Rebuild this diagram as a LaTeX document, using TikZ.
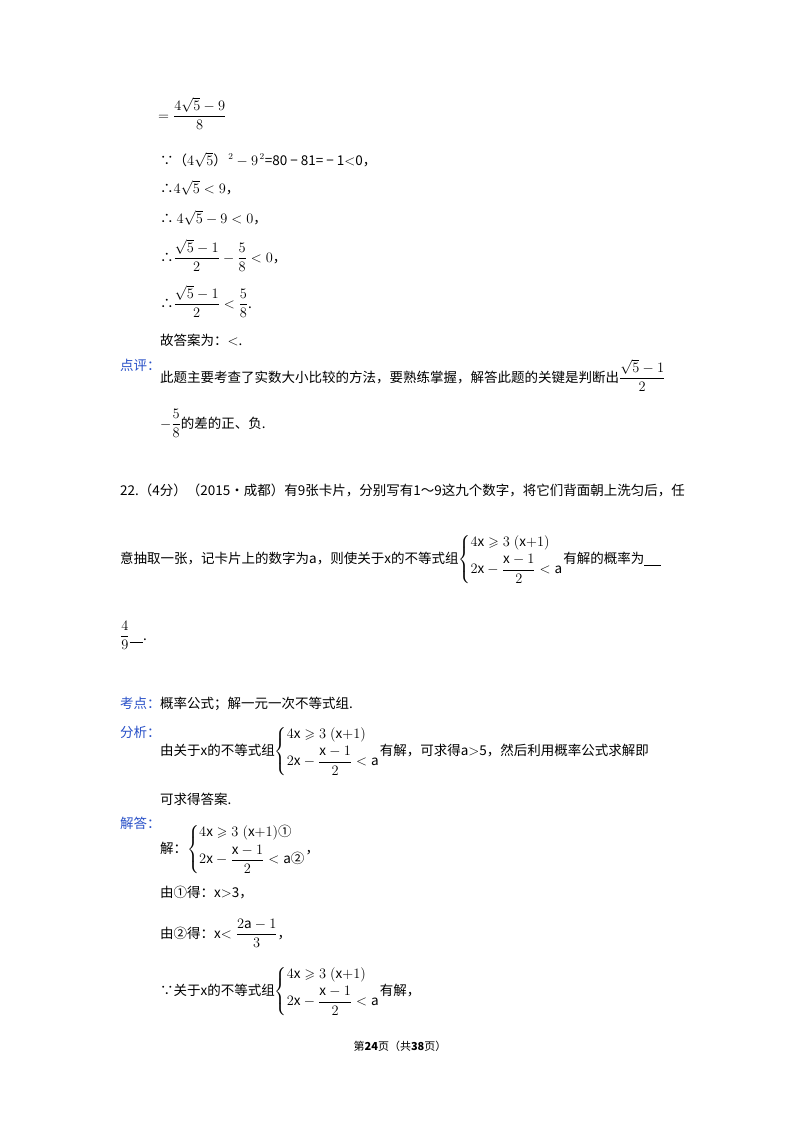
\documentclass[tikz,border=0pt]{standalone}
\usepackage{amsmath,amssymb}
\usepackage{fontspec}
\setmainfont{Noto Sans CJK SC}
\begin{document}
\begin{tikzpicture}[x=1pt,y=-1pt,
  t/.style={anchor=base west,inner sep=0pt,font=\fontsize{13.5}{15}\selectfont},
  lbl/.style={t,text={rgb,255:red,40;green,80;blue,200}}]
\useasboundingbox[fill=white] (0,0) rectangle (800,1132);
\newcommand{\sys}[1]{$\left\{\begin{array}{@{}l@{}}4\mathrm{x}\geqslant 3\;(\mathrm{x}{+}1)#1\\[4pt] 2\mathrm{x}-\dfrac{\mathrm{x}-1}{2}<\mathrm{a}\end{array}\right.$}
\node[t] (l1) at (158,120) {$=\dfrac{4\sqrt{5}-9}{8}$};
\node[t] (l2) at (160,165) {∵（$4\sqrt{5}$）$^{\,2}-9^{\,2}$=80 − 81= − 1$<$0，};
\node[t] (l3) at (160,193) {∴$4\sqrt{5}<9$，};
\node[t] (l4) at (160,223) {∴ $4\sqrt{5}-9<0$，};
\node[t] (l5) at (160,262) {∴$\dfrac{\sqrt{5}-1}{2}-\dfrac{5}{8}<0$，};
\node[t] (l6) at (160,308) {∴$\dfrac{\sqrt{5}-1}{2}<\dfrac{5}{8}$.};
\node[t] (l7) at (160,345) {故答案为：$<$.};
\node[lbl] (p1) at (120,370) {点评：};
\node[t] (p2) at (160,382) {此题主要考查了实数大小比较的方法，要熟练掌握，解答此题的关键是判断出$\dfrac{\sqrt{5}-1}{2}$};
\node[t] (p3) at (160,428) {$-\dfrac{5}{8}$的差的正、负.};
\node[t] (q1) at (120,495) {22.（4分）（2015•成都）有9张卡片，分别写有1～9这九个数字，将它们背面朝上洗匀后，任};
\node[t] (q2) at (120,563) {意抽取一张，记卡片上的数字为a，则使关于x的不等式组\sys{}有解的概率为\underline{\hspace{1.2em}}};
\node[t] (q3) at (120,640) {$\dfrac{4}{9}$\underline{\hspace{1em}}.};
\node[lbl] (k1) at (120,708) {考点：};
\node[t] (k2) at (160,708) {概率公式；解一元一次不等式组.};
\node[lbl] (f1) at (120,737) {分析：};
\node[t] (f2) at (160,755) {由关于x的不等式组\sys{}有解，可求得a$>$5，然后利用概率公式求解即};
\node[t] (f3) at (160,804) {可求得答案.};
\node[lbl] (j1) at (120,828) {解答：};
\node[t] (j2) at (160,853) {解：$\left\{\begin{array}{@{}l@{}}4\mathrm{x}\geqslant 3\;(\mathrm{x}{+}1)\text{①}\\[4pt] 2\mathrm{x}-\dfrac{\mathrm{x}-1}{2}<\mathrm{a}\text{②}\end{array}\right.$，};
\node[t] (j3) at (160,897) {由①得：x$>$3，};
\node[t] (j4) at (160,938) {由②得：x$<\dfrac{2\mathrm{a}-1}{3}$，};
\node[t] (j5) at (160,995) {∵关于x的不等式组\sys{}有解，};
\node[t,anchor=base] (ft) at (400,1050) {\fontsize{11}{13}\selectfont 第\textbf{24}页（共\textbf{38}页）};
\end{tikzpicture}
\end{document}
